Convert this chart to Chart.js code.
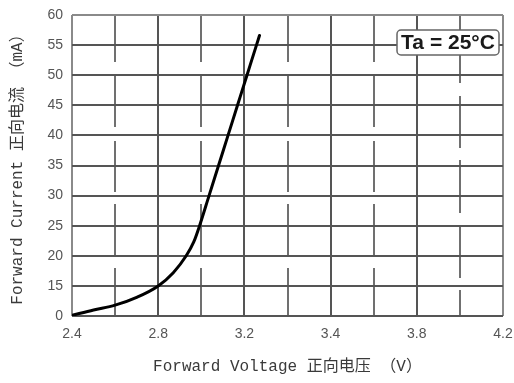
<!DOCTYPE html>
<html>
<head>
<meta charset="utf-8">
<script src="https://cdn.jsdelivr.net/npm/chart.js@4"></script>
<style>
  html, body { margin: 0; padding: 0; background: #ffffff; }
  canvas { display: block; }
</style>
</head>
<body>
<canvas id="c" width="514" height="383"></canvas>
<script>
// ---- data ----
const voltage = [2.40, 2.50, 2.60, 2.70, 2.80, 2.87, 2.93, 2.965, 2.992, 3.036, 3.080, 3.124, 3.168, 3.212, 3.256, 3.270];
const current = [10.1, 11.0, 11.8, 13.1, 15.0, 17.2, 20.0, 22.3, 25.0, 30.0, 35.0, 40.0, 45.0, 50.0, 55.0, 56.6];

// tick labels exactly as printed on the reference axes
const xTickLabels = ['2.4', '2.8', '3.2', '3.4', '3.8', '4.2'];
const yTickLabels = ['0', '15', '20', '25', '30', '35', '40', '45', '50', '55', '60'];

const xTitle = 'Forward Voltage 正向电压 （V）';
const yTitle = 'Forward Current 正向电流 （mA）';
const annotationText = 'Ta = 25°C';

// ---- chart ----
const points = voltage.map((v, i) => ({ x: v, y: current[i] }));

const dashMinor = [47, 14, 51, 14, 51, 12, 53, 11, 60];
const dashLast  = [68, 13, 52, 12, 53, 12, 53, 12, 40];

const tempBox = {
  id: 'tempBox',
  afterDraw(chart) {
    const { ctx, chartArea } = chart;
    const x = chartArea.right - 106, y = chartArea.top + 15, w = 102, h = 25, r = 4;
    ctx.save();
    ctx.beginPath();
    ctx.moveTo(x + r, y);
    ctx.arcTo(x + w, y, x + w, y + h, r);
    ctx.arcTo(x + w, y + h, x, y + h, r);
    ctx.arcTo(x, y + h, x, y, r);
    ctx.arcTo(x, y, x + w, y, r);
    ctx.closePath();
    ctx.fillStyle = '#ffffff';
    ctx.fill();
    ctx.lineWidth = 1.5;
    ctx.strokeStyle = '#666666';
    ctx.stroke();
    ctx.fillStyle = '#1a1a1a';
    ctx.font = 'bold 21px "Liberation Sans", Arial, sans-serif';
    ctx.textAlign = 'center';
    ctx.textBaseline = 'middle';
    ctx.fillText(annotationText, x + w / 2, y + h / 2 + 1);
    ctx.restore();
  }
};

new Chart(document.getElementById('c'), {
  type: 'line',
  data: {
    datasets: [{
      data: points,
      borderColor: '#000000',
      borderWidth: 3,
      borderCapStyle: 'round',
      pointRadius: 0,
      fill: false,
      cubicInterpolationMode: 'monotone'
    }]
  },
  options: {
    responsive: false,
    animation: false,
    layout: { padding: { top: 15, right: 11, left: 0, bottom: 0 } },
    plugins: { legend: { display: false }, tooltip: { enabled: false } },
    scales: {
      x: {
        type: 'linear',
        min: 2.4,
        max: 4.4,
        afterFit(scale) { scale.height = 67; scale.paddingLeft = 0; scale.paddingRight = 0; },
        ticks: {
          stepSize: 0.2,
          autoSkip: false,
          maxRotation: 0,
          padding: 10,
          color: '#555555',
          font: { family: '"Liberation Sans", Arial, sans-serif', size: 14 },
          callback: (v, i) => (i % 2 === 0 ? xTickLabels[i / 2] : '')
        },
        grid: {
          drawTicks: false,
          lineWidth: 2,
          color: (ctx) => {
            const i = ctx.index;
            if (i === 0 || i === 10) return '#8a8a8a';
            return i % 2 === 0 ? '#555555' : '#707070';
          }
        },
        border: {
          display: false,
          dash: (ctx) => {
            const i = ctx.index;
            if (i % 2 === 0) return [];
            return i === 9 ? dashLast : dashMinor;
          }
        },
        title: {
          display: true,
          text: xTitle,
          color: '#3a3a3a',
          padding: { top: 0, bottom: 7 },
          font: { family: '"Liberation Mono", "Noto Sans CJK SC", monospace', size: 16 }
        }
      },
      y: {
        type: 'linear',
        min: 10,
        max: 60,
        afterFit(scale) { scale.width = 72; scale.paddingTop = 0; scale.paddingBottom = 0; },
        ticks: {
          stepSize: 5,
          autoSkip: false,
          padding: 9,
          color: '#555555',
          font: { family: '"Liberation Sans", Arial, sans-serif', size: 14 },
          callback: (v, i) => yTickLabels[i]
        },
        grid: {
          drawTicks: false,
          lineWidth: 2,
          color: (ctx) => (ctx.index === 10 ? '#8a8a8a' : '#555555')
        },
        border: { display: false },
        title: {
          display: true,
          text: yTitle,
          color: '#3a3a3a',
          padding: { top: 8, bottom: 0 },
          font: { family: '"Liberation Mono", "Noto Sans CJK SC", monospace', size: 16 }
        }
      }
    }
  },
  plugins: [tempBox]
});
</script>
</body>
</html>
